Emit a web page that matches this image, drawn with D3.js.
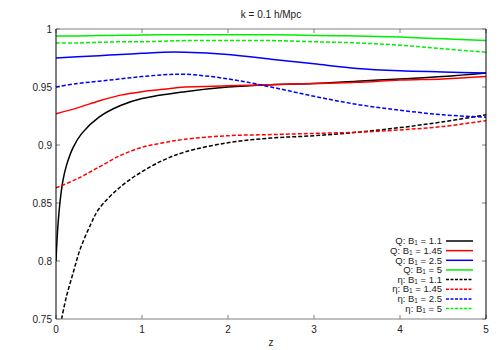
<!DOCTYPE html>
<html>
<head>
<meta charset="utf-8">
<script src="https://d3js.org/d3.v7.min.js"></script>
<style>
  body { margin: 0; background: #fff; }
  svg { font-family: "Liberation Sans", Arial, sans-serif; }
</style>
</head>
<body>
<svg width="500" height="350"></svg>
<script>
// data
var zQ = [0, 0.02, 0.05, 0.08, 0.12, 0.2, 0.3, 0.5, 0.75, 1, 1.5, 2, 2.5, 3, 3.5, 4, 4.5, 5];
var qB11 = [0.80, 0.828, 0.853, 0.869, 0.882, 0.898, 0.910, 0.924, 0.934, 0.940, 0.946, 0.950, 0.952, 0.953, 0.955, 0.957, 0.959, 0.962];

var zS = [0, 0.25, 0.5, 0.75, 1, 1.25, 1.5, 2, 2.5, 3, 3.5, 4, 4.5, 5];
var qB145 = [0.927, 0.932, 0.938, 0.943, 0.946, 0.948, 0.950, 0.951, 0.952, 0.953, 0.954, 0.956, 0.957, 0.959];
var qB25 = [0.975, 0.976, 0.977, 0.978, 0.979, 0.980, 0.980, 0.978, 0.974, 0.970, 0.966, 0.964, 0.963, 0.962];
var qB5 = [0.994, 0.994, 0.9943, 0.9946, 0.9948, 0.995, 0.995, 0.995, 0.995, 0.9945, 0.994, 0.993, 0.9915, 0.990];
var eB145 = [0.863, 0.871, 0.881, 0.891, 0.898, 0.902, 0.905, 0.908, 0.909, 0.910, 0.911, 0.913, 0.916, 0.921];
var eB25 = [0.950, 0.953, 0.955, 0.957, 0.959, 0.9605, 0.961, 0.957, 0.950, 0.942, 0.935, 0.930, 0.926, 0.924];
var eB5 = [0.988, 0.988, 0.9885, 0.989, 0.989, 0.9895, 0.990, 0.990, 0.990, 0.989, 0.988, 0.986, 0.983, 0.980];

var zE = [0.065, 0.12, 0.2, 0.28, 0.4, 0.5, 0.75, 1, 1.25, 1.5, 2, 2.5, 3, 3.5, 4, 4.5, 5];
var eB11 = [0.75, 0.769, 0.79, 0.81, 0.831, 0.845, 0.864, 0.877, 0.887, 0.894, 0.902, 0.906, 0.908, 0.911, 0.915, 0.920, 0.926];

var xTicks = [0, 1, 2, 3, 4, 5];
var yTicks = [0.75, 0.8, 0.85, 0.9, 0.95, 1];

var seriesNames = ["Q", "Q", "Q", "Q", "\u03b7", "\u03b7", "\u03b7", "\u03b7"];
var seriesB = ["1.1", "1.45", "2.5", "5", "1.1", "1.45", "2.5", "5"];
var seriesColors = ["#000000", "#ff0000", "#0000ff", "#00ee00", "#000000", "#ff0000", "#0000ff", "#00ee00"];

var series = [
  { z: zQ, v: qB11 }, { z: zS, v: qB145 }, { z: zS, v: qB25 }, { z: zS, v: qB5 },
  { z: zE, v: eB11 }, { z: zS, v: eB145 }, { z: zS, v: eB25 }, { z: zS, v: eB5 }
];

var margin = { left: 56, right: 14, top: 29, bottom: 31 },
  width = 500,
  height = 350;

var svg = d3.select("svg");

var x = d3.scaleLinear().domain([0, 5]).range([margin.left, width - margin.right]);
var y = d3.scaleLinear().domain([0.75, 1]).range([height - margin.bottom, margin.top]);

svg.append("defs").append("clipPath").attr("id", "clip")
  .append("rect")
  .attr("x", x(0)).attr("y", y(1))
  .attr("width", x(5) - x(0)).attr("height", y(0.75) - y(1));

// ticks (inside, mirrored)
var tickLen = 4;
var axes = svg.append("g").attr("stroke", "#808080").attr("stroke-width", 1);
xTicks.forEach(function (t) {
  axes.append("line").attr("x1", x(t)).attr("x2", x(t)).attr("y1", y(0.75)).attr("y2", y(0.75) - tickLen);
  axes.append("line").attr("x1", x(t)).attr("x2", x(t)).attr("y1", y(1)).attr("y2", y(1) + tickLen);
});
yTicks.forEach(function (t) {
  axes.append("line").attr("x1", x(0)).attr("x2", x(0) + tickLen).attr("y1", y(t)).attr("y2", y(t));
  axes.append("line").attr("x1", x(5)).attr("x2", x(5) - tickLen).attr("y1", y(t)).attr("y2", y(t));
});

// tick labels
svg.append("g").selectAll("text").data(xTicks).enter().append("text")
  .attr("x", function (d) { return x(d); })
  .attr("y", y(0.75) + 14)
  .attr("text-anchor", "middle")
  .attr("font-size", 10)
  .attr("fill", "#222")
  .text(function (d) { return d; });
svg.append("g").selectAll("text").data(yTicks).enter().append("text")
  .attr("x", x(0) - 4)
  .attr("y", function (d) { return y(d) + 3.5; })
  .attr("text-anchor", "end")
  .attr("font-size", 10)
  .attr("fill", "#222")
  .text(function (d) { return d; });

// curves
var line = d3.line()
  .x(function (d) { return x(d[0]); })
  .y(function (d) { return y(d[1]); })
  .curve(d3.curveCatmullRom.alpha(0.5));

svg.append("g").attr("clip-path", "url(#clip)")
  .selectAll("path").data(series).enter().append("path")
  .attr("d", function (s) { return line(d3.zip(s.z, s.v)); })
  .attr("fill", "none")
  .attr("stroke", function (s, i) { return seriesColors[i]; })
  .attr("stroke-width", 1.5)
  .attr("stroke-dasharray", function (s, i) { return i >= 4 ? "4,2" : null; });

// frame
var frame = svg.append("g").attr("stroke-width", 1);
frame.append("line").attr("x1", x(0)).attr("x2", x(5)).attr("y1", y(1)).attr("y2", y(1)).attr("stroke", "#808080");
frame.append("line").attr("x1", x(0)).attr("x2", x(5)).attr("y1", y(0.75)).attr("y2", y(0.75)).attr("stroke", "#808080");
frame.append("line").attr("x1", x(0)).attr("x2", x(0)).attr("y1", y(1)).attr("y2", y(0.75)).attr("stroke", "#000");
frame.append("line").attr("x1", x(5)).attr("x2", x(5)).attr("y1", y(1)).attr("y2", y(0.75)).attr("stroke", "#000");

// legend
var legend = svg.append("g");
seriesNames.forEach(function (n, i) {
  var ly = 241 + i * 9.65;
  var t = legend.append("text")
    .attr("x", 442)
    .attr("y", ly + 3.2)
    .attr("text-anchor", "end")
    .attr("font-size", 9.5)
    .attr("fill", "#222");
  t.append("tspan").text(n + ": B");
  t.append("tspan").attr("font-size", 6.5).attr("baseline-shift", "-20%").text("1");
  t.append("tspan").text(" = " + seriesB[i]);
  legend.append("line")
    .attr("x1", 446).attr("x2", 473)
    .attr("y1", ly).attr("y2", ly)
    .attr("stroke", seriesColors[i])
    .attr("stroke-width", 1.5)
    .attr("stroke-dasharray", i >= 4 ? "3,1.5" : null);
});

// title and axis label
svg.append("text")
  .attr("x", 271).attr("y", 18)
  .attr("text-anchor", "middle")
  .attr("font-size", 10)
  .attr("fill", "#222")
  .text("k = 0.1 h/Mpc");
svg.append("text")
  .attr("x", 271).attr("y", 346)
  .attr("text-anchor", "middle")
  .attr("font-size", 10)
  .attr("fill", "#222")
  .text("z");
</script>
</body>
</html>
